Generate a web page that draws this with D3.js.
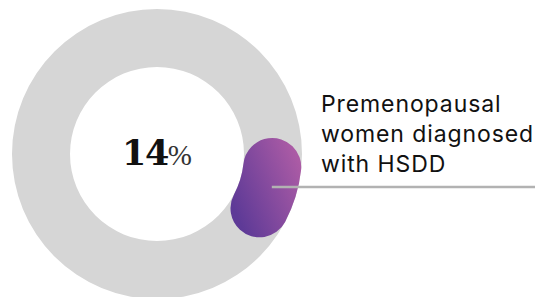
<!DOCTYPE html>
<html>
<head>
<meta charset="utf-8">
<script src="https://cdn.jsdelivr.net/npm/d3@7"></script>
<style>
  html, body { margin: 0; padding: 0; background: #fff; }
  svg { display: block; }
</style>
</head>
<body>
<div id="chart"></div>
<script>
//chart data
const shareValues = [14, 86]; //percent diagnosed vs rest
const shareLabels = ['Premenopausal women diagnosed with HSDD', 'Other'];
const labelLines = ['Premenopausal', 'women diagnosed', 'with HSDD'];
const centerNumber = '14';
const centerUnit = '%';

const width = 539, height = 297;
const cx = 157, cy = 154;
const outerR = 145, innerR = 87;

const svg = d3.select('#chart').append('svg')
    .attr('width', width)
    .attr('height', height);

//gradient for the highlighted slice (dark left -> pink right)
//coords are relative to the donut centre since the path sits in the translated group
const defs = svg.append('defs');
const grad = defs.append('linearGradient')
    .attr('id', 'purpleGrad')
    .attr('gradientUnits', 'userSpaceOnUse')
    .attr('x1', 73).attr('y1', 45)
    .attr('x2', 145).attr('y2', 15);
grad.append('stop').attr('offset', '0%').attr('stop-color', '#5e3a97');
grad.append('stop').attr('offset', '100%').attr('stop-color', '#ab5ba5');

const g = svg.append('g').attr('transform', `translate(${cx},${cy})`);

//grey background ring
g.append('path')
    .attr('d', d3.arc().innerRadius(innerR).outerRadius(outerR)({ startAngle: 0, endAngle: 2 * Math.PI }))
    .attr('fill', '#d6d6d6');

//pie layout, starting just past 3 o'clock
const startDeg = 82;
const pie = d3.pie().sort(null)
    .startAngle(startDeg * Math.PI / 180)
    .endAngle(startDeg * Math.PI / 180 + 2 * Math.PI);
const arcs = pie(shareValues);

const arc = d3.arc()
    .innerRadius(innerR)
    .outerRadius(outerR)
    .cornerRadius((outerR - innerR) / 2);

//only the first slice is coloured; the rest is the grey ring
g.selectAll('.slice')
    .data(arcs.slice(0, 1))
  .enter().append('path')
    .attr('class', 'slice')
    .attr('d', arc)
    .attr('fill', 'url(#purpleGrad)');

//leader line from slice to label
const mid = (arcs[0].startAngle + arcs[0].endAngle) / 2;
const midR = (innerR + outerR) / 2;
const lx0 = cx + midR * Math.sin(mid) + 4;
const ly = 187;
svg.append('line')
    .attr('x1', lx0).attr('y1', ly)
    .attr('x2', 535).attr('y2', ly)
    .attr('stroke', '#b2b2b2')
    .attr('stroke-width', 2.5);

//label text
const label = svg.append('text')
    .attr('x', 321)
    .attr('y', 111.5)
    .attr('font-family', 'Inter, sans-serif')
    .attr('font-size', 23)
    .attr('letter-spacing', 0.9)
    .attr('fill', '#111');
label.selectAll('tspan')
    .data(labelLines)
  .enter().append('tspan')
    .attr('x', 321)
    .attr('dy', (d, i) => i === 0 ? 0 : 30)
    .text(d => d);

//center value
const center = svg.append('text')
    .attr('x', cx)
    .attr('y', 165)
    .attr('text-anchor', 'middle')
    .attr('fill', '#111');
center.append('tspan')
    .attr('font-family', '"DejaVu Serif", serif')
    .attr('font-weight', 'bold')
    .attr('font-size', 35)
    .attr('letter-spacing', -1.5)
    .text(centerNumber);
center.append('tspan')
    .attr('font-family', '"Liberation Serif", serif')
    .attr('font-size', 29)
    .attr('fill', '#333')
    .text(centerUnit);
</script>
</body>
</html>
